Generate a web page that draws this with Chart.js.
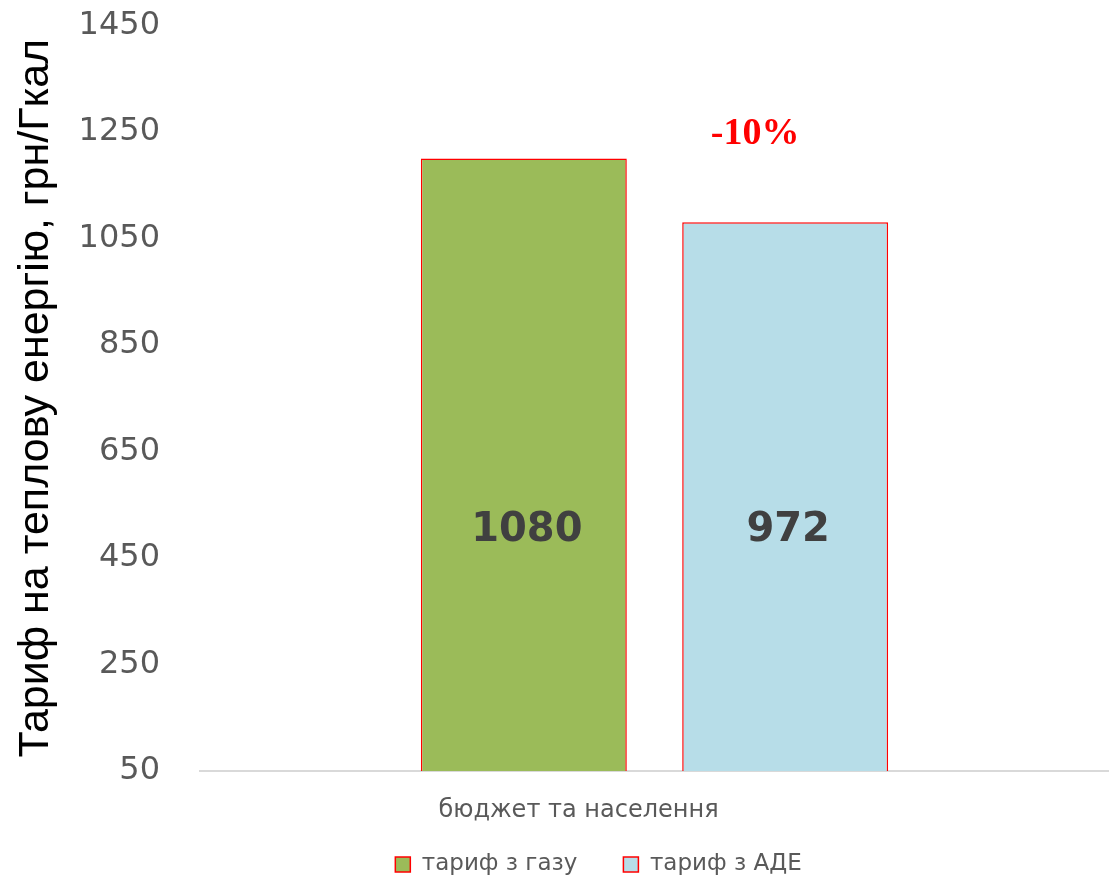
<!DOCTYPE html>
<html>
<head>
<meta charset="utf-8">
<script src="https://cdn.jsdelivr.net/npm/chart.js@4.4.1/dist/chart.umd.min.js"></script>
<style>
  html, body { margin: 0; padding: 0; background: #fff; }
  #wrap { width: 1109px; height: 878px; }
</style>
</head>
<body>
<div id="wrap"><canvas id="c" width="1109" height="878"></canvas></div>
<script>
// ---- data ----
const categories = ["бюджет та населення"];
const seriesNames = ["тариф з газу", "тариф з АДЕ"];
const gasValues = [1200];
const adeValues = [1080];
const valueLabels = ["1080", "972"];
const changeLabel = "-10%";
const yAxisTitle = "Тариф на теплову енергію, грн/Гкал";
const yMin = 50, yMax = 1450, yStep = 200;

const barLabelPlugin = {
  id: 'barLabels',
  afterDatasetsDraw(chart) {
    const ctx = chart.ctx;
    const y = chart.scales.y;
    ctx.save();
    ctx.font = 'bold 40px "DejaVu Sans"';
    ctx.fillStyle = '#404040';
    ctx.textAlign = 'center';
    ctx.textBaseline = 'middle';
    chart.data.datasets.forEach((ds, i) => {
      const meta = chart.getDatasetMeta(i);
      meta.data.forEach((bar) => {
        ctx.fillText(valueLabels[i], bar.x + 3, y.getPixelForValue(502));
      });
    });
    const blue = chart.getDatasetMeta(1).data[0];
    ctx.font = 'bold 38px "Liberation Serif"';
    ctx.fillStyle = '#FF0000';
    ctx.fillText(changeLabel, blue.x - 30, y.getPixelForValue(1246));
    ctx.restore();
  }
};

const legendShift = {
  id: 'legendShift',
  beforeDraw(chart) {
    const lg = chart.legend;
    if (lg && !lg._shifted) {
      lg.left += 44; lg.right += 44;
      lg.top -= 20; lg.bottom -= 20;
      lg._shifted = true;
    }
  },
  afterLayout(chart) { if (chart.legend) chart.legend._shifted = false; }
};

new Chart(document.getElementById('c'), {
  type: 'bar',
  data: {
    labels: categories,
    datasets: [
      { label: seriesNames[0], data: gasValues, backgroundColor: '#9BBB59', borderColor: '#FF0000', borderWidth: 1.5 },
      { label: seriesNames[1], data: adeValues, backgroundColor: '#B7DDE8', borderColor: '#FF0000', borderWidth: 1.5 }
    ]
  },
  options: {
    responsive: false,
    animation: false,
    devicePixelRatio: 1,
    categoryPercentage: 0.575,
    barPercentage: 0.788,
    layout: { padding: { top: 4, right: 0, left: 0, bottom: -28 } },
    plugins: {
      legend: {
        position: 'bottom',
        labels: {
          boxWidth: 15, boxHeight: 15, padding: 46,
          color: '#595959',
          font: { family: '"DejaVu Sans"', size: 23 }
        }
      },
      tooltip: { enabled: false }
    },
    scales: {
      x: {
        afterFit(scale) { scale.height = 56; },
        grid: { display: false, drawTicks: false },
        border: { display: true, color: '#D9D9D9', width: 2 },
        ticks: {
          color: '#595959', padding: 25, labelOffset: -76,
          font: { family: '"DejaVu Sans"', size: 24 }
        }
      },
      y: {
        min: yMin, max: yMax,
        afterFit(scale) { scale.width = 200; },
        grid: { display: true, drawOnChartArea: false, drawTicks: true, tickLength: 34, color: 'rgba(0,0,0,0)' },
        border: { display: false },
        ticks: {
          stepSize: yStep, padding: 6,
          color: '#595959',
          font: { family: '"DejaVu Sans"', size: 32 },
          callback: (v) => String(v)
        },
        title: {
          display: true, text: yAxisTitle, color: '#000000',
          font: { family: '"Liberation Sans"', size: 43 },
          padding: { top: 10, bottom: 0 }
        }
      }
    }
  },
  plugins: [barLabelPlugin, legendShift]
});
</script>
</body>
</html>
